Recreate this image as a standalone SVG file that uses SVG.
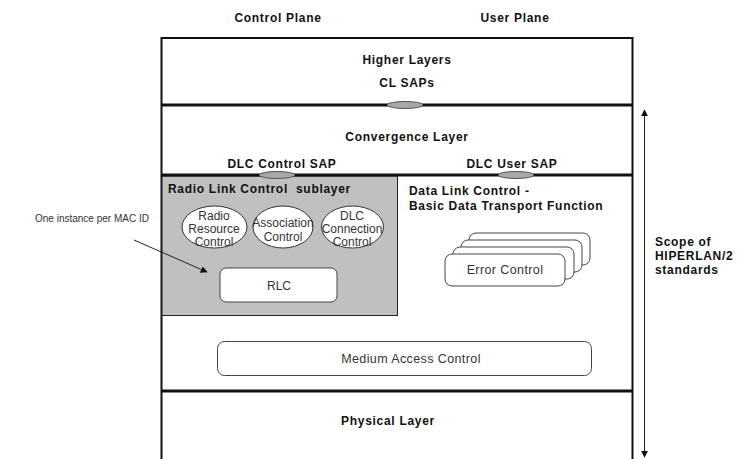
<svg xmlns="http://www.w3.org/2000/svg" width="738" height="459" viewBox="0 0 738 459">
<style>
.b{font-family:"Liberation Sans",Arial,sans-serif;font-weight:bold;font-size:12px;letter-spacing:0.7px;fill:#111}
.r{font-family:"Liberation Sans",Arial,sans-serif;font-size:12px;fill:#333}
.m{text-anchor:middle}
.sep{stroke:#111;stroke-width:3;fill:none}
.frame{stroke:#111;stroke-width:2;fill:none}
.sap{fill:#a8a8a8;stroke:#555;stroke-width:1}
.ell{fill:#fff;stroke:#333;stroke-width:1}
.box{fill:#fff;stroke:#444;stroke-width:1}
</style>
<defs>
<marker id="ah" viewBox="0 0 10 10" refX="9" refY="5" markerWidth="7" markerHeight="7" orient="auto-start-reverse" markerUnits="userSpaceOnUse">
<path d="M0,0 L10,5 L0,10 z" fill="#111"/>
</marker>
</defs>
<rect width="738" height="459" fill="#fff"/>

<g id="planes">
<text class="b m" x="278" y="22">Control Plane</text>
<text class="b m" x="515" y="22">User Plane</text>
</g>

<g id="frame">
<path class="frame" d="M161.5,459 V38 H632.5 V459"/>
</g>

<g id="rlc-sublayer">
<rect x="162" y="176" width="235.5" height="139.5" fill="#c0c0c0" stroke="#222" stroke-width="1"/>
<text class="b" x="168" y="193" xml:space="preserve">Radio Link Control  sublayer</text>
</g>

<g id="higher-layers">
<text class="b m" x="407" y="64">Higher Layers</text>
<text class="b m" x="407" y="87">CL SAPs</text>
</g>

<g id="convergence-layer">
<text class="b m" x="407" y="141">Convergence Layer</text>
<text class="b m" x="282" y="168">DLC Control SAP</text>
<text class="b m" x="512" y="168">DLC User SAP</text>
</g>

<g id="separators">
<line class="sep" x1="161" y1="105" x2="633" y2="105"/>
<line class="sep" x1="161" y1="175" x2="633" y2="175"/>
<line class="sep" x1="161" y1="391" x2="633" y2="391"/>
</g>

<g id="saps">
<ellipse class="sap" cx="405" cy="105" rx="18" ry="3.5"/>
<ellipse class="sap" cx="277" cy="175" rx="18" ry="3.5"/>
<ellipse class="sap" cx="516" cy="175" rx="18" ry="3.5"/>
</g>

<g id="rrc">
<ellipse class="ell" cx="214.5" cy="227" rx="32.5" ry="21"/>
<text class="r m" x="214" y="220">Radio</text>
<text class="r m" x="214" y="233">Resource</text>
<text class="r m" x="214" y="246">Control</text>
</g>
<g id="association">
<ellipse class="ell" cx="283" cy="227" rx="30" ry="21"/>
<text class="r m" x="283" y="227">Association</text>
<text class="r m" x="283" y="241">Control</text>
</g>
<g id="dlc-cc">
<ellipse class="ell" cx="352.5" cy="227" rx="31" ry="21"/>
<text class="r m" x="352" y="220">DLC</text>
<text class="r m" x="352" y="233">Connection</text>
<text class="r m" x="352" y="246">Control</text>
</g>

<g id="rlc">
<rect class="box" x="220" y="268" width="117" height="34" rx="6"/>
<text class="r m" x="279" y="290">RLC</text>
</g>

<g id="dlc">
<text class="b" x="409" y="195">Data Link Control -</text>
<text class="b" x="409" y="210">Basic Data Transport Function</text>
</g>

<g id="error-control">
<rect class="box" x="469" y="233" width="121" height="32" rx="7"/>
<rect class="box" x="461" y="240" width="121" height="32" rx="7"/>
<rect class="box" x="453" y="247" width="121" height="32" rx="7"/>
<rect class="box" x="445" y="254" width="120" height="32" rx="7"/>
<text class="r m" x="505" y="274" style="font-size:12.5px;letter-spacing:0.4px">Error Control</text>
</g>

<g id="mac">
<rect class="box" x="217.5" y="341.5" width="374" height="34" rx="7"/>
<text class="r m" x="411" y="363" style="font-size:12.5px;letter-spacing:0.4px">Medium Access Control</text>
</g>

<g id="physical-layer">
<text class="b m" x="388" y="425">Physical Layer</text>
</g>

<g id="annotation">
<text class="r" x="35" y="222" style="font-size:10px">One instance per MAC ID</text>
</g>

<g id="scope">
<text class="b" x="655" y="246">Scope of</text>
<text class="b" x="655" y="260">HIPERLAN/2</text>
<text class="b" x="655" y="274">standards</text>
</g>

<g id="connectors">
<line x1="134" y1="240" x2="207" y2="272" stroke="#222" stroke-width="1" marker-end="url(#ah)"/>
<line x1="644.5" y1="110" x2="644.5" y2="457" stroke="#222" stroke-width="1" marker-start="url(#ah)" marker-end="url(#ah)"/>
</g>
</svg>
